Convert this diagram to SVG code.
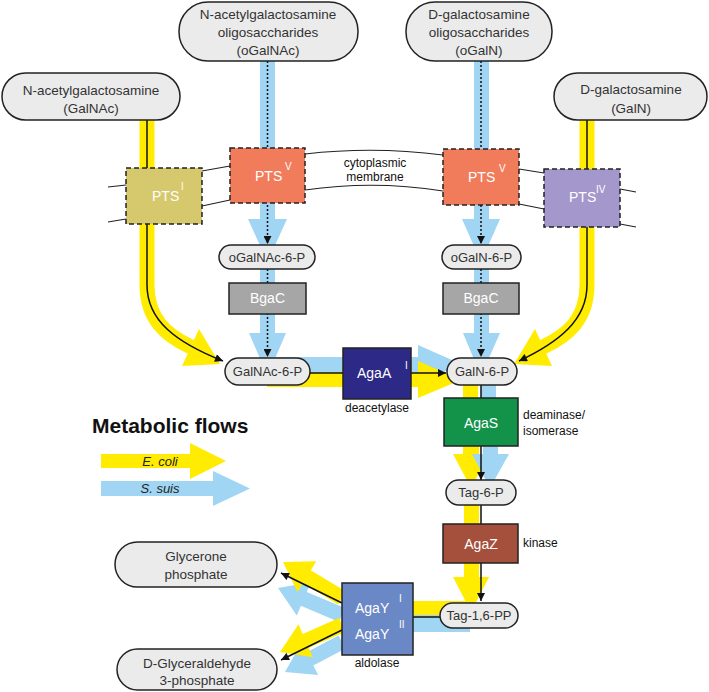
<svg xmlns="http://www.w3.org/2000/svg" width="709" height="692" viewBox="0 0 709 692">
<defs>
<marker id="ah" viewBox="0 0 10 10" refX="10" refY="5" markerWidth="9" markerHeight="8" markerUnits="userSpaceOnUse" orient="auto"><path d="M0,0 L10,5 L0,10 z" fill="#111"/></marker>
<style>
.pill{fill:#ebebeb;stroke:#222;stroke-width:1.5}
.t{font-family:"Liberation Sans",Arial,sans-serif;font-size:13.5px;fill:#333;text-anchor:middle}
.ts{font-family:"Liberation Sans",Arial,sans-serif;font-size:13px;fill:#333;text-anchor:middle}
.lb{font-family:"Liberation Sans",Arial,sans-serif;font-size:12px;fill:#111}
.bx{stroke:#222;stroke-width:1.5}
.pts{stroke:#222;stroke-width:1.5;stroke-dasharray:5,3}
.w{font-family:"Liberation Sans",Arial,sans-serif;font-size:14px;fill:#fff}
.sup{font-family:"Liberation Sans",Arial,sans-serif;font-size:10px;fill:#fff}
.y{fill:#ffec00}
.b{fill:#a0d6f3}
.ys{fill:none;stroke:#ffec00;stroke-width:15}
.ln{fill:none;stroke:#111;stroke-width:1.5}
.dot{fill:none;stroke:#111;stroke-width:1.5;stroke-dasharray:2,2}
.mem{fill:none;stroke:#222;stroke-width:1.2}
</style>
</defs>

<g id="flows">
<!-- left GalNAc yellow -->
<path class="ys" d="M147,120 V285 C147,318 165,335 191,347"/>
<polygon class="y" points="199,329 220,364 182,366"/>
<!-- right GalN yellow -->
<path class="ys" d="M587,120 V285 C587,318 569,335 543,347"/>
<polygon class="y" points="535,329 514,364 552,366"/>
<!-- oGalNAc blue -->
<rect class="b" x="260" y="61" width="15" height="158"/>
<polygon class="b" points="248,219 287,219 267.5,262"/>
<rect class="b" x="260" y="269" width="15" height="64"/>
<polygon class="b" points="249,333 286,333 267.5,376"/>
<!-- oGalN blue -->
<rect class="b" x="474" y="61" width="15" height="158"/>
<polygon class="b" points="462,219 500,219 481,262"/>
<rect class="b" x="474" y="269" width="15" height="64"/>
<polygon class="b" points="463,333 500,333 481,376"/>
<!-- GalNAc-6-P to GalN-6-P -->
<rect class="b" x="267" y="357" width="151" height="15"/>
<polygon class="b" points="418,345 461,364 418,384"/>
<rect class="y" x="267" y="372" width="151" height="15"/>
<polygon class="y" points="418,361 461,380 418,398"/>
<!-- GalN-6-P to AgaS -->
<rect class="y" x="463" y="371" width="15" height="30"/>
<rect class="b" x="481" y="371" width="15" height="30"/>
<!-- AgaS to Tag-6-P -->
<rect class="y" x="463" y="445" width="16" height="10"/>
<polygon class="y" points="453,454 489,454 471,488"/>
<rect class="b" x="483" y="445" width="15" height="10"/>
<polygon class="b" points="472,454 509,454 490,488"/>
<!-- Tag-6-P to AgaZ -->
<rect class="y" x="464" y="492" width="15" height="34"/>
<!-- AgaZ to Tag-1,6-PP -->
<rect class="y" x="464" y="562" width="15" height="16"/>
<polygon class="y" points="453,577 489,577 471,612"/>
<!-- Tag-1,6-PP to AgaY -->
<rect class="y" x="410" y="601" width="60" height="14"/>
<rect class="b" x="410" y="615" width="60" height="17"/>
<!-- AgaY outputs -->
<polygon class="b" points="344.9,608.1 306.7,592.0 310.8,582.3 278,588 296.8,615.5 300.9,605.8 339.1,621.9"/>
<polygon class="b" points="345.5,648.6 313.3,665.6 318.2,674.9 285,672 301.4,643.1 306.3,652.4 338.5,635.4"/>
<polygon class="y" points="345.9,591.6 310.8,570.2 316.3,561.2 283,562 297.5,592.0 303.0,583.0 338.1,604.4"/>
<polygon class="y" points="345,631.9 308.7,647.7 312.9,657.3 280,652 298.5,624.3 302.7,633.9 339,618.1"/>

<!-- black connectors -->
<path class="ln" d="M147,120 V285 C147,320 175,342 223,361" marker-end="url(#ah)"/>
<path class="ln" d="M587,120 V285 C587,320 559,342 519,361" marker-end="url(#ah)"/>
<path class="dot" d="M267.5,61 V244" marker-end="url(#ah)"/>
<path class="dot" d="M267.5,269 V357" marker-end="url(#ah)"/>
<path class="dot" d="M481,61 V244" marker-end="url(#ah)"/>
<path class="dot" d="M481,269 V357" marker-end="url(#ah)"/>
<path class="ln" d="M310,373 H343"/>
<path class="ln" d="M411,373 H446" marker-end="url(#ah)"/>
<path class="ln" d="M481,385 V398"/>
<path class="ln" d="M481,446 V480" marker-end="url(#ah)"/>
<path class="ln" d="M481,505 V524"/>
<path class="ln" d="M481,563 V601" marker-end="url(#ah)"/>
<path class="ln" d="M413,617 H441"/>
<path class="ln" d="M342,603 L281,573" marker-end="url(#ah)"/>
<path class="ln" d="M342,630 L281,660" marker-end="url(#ah)"/>
</g>

<g id="membrane">
<path class="mem" d="M108,187 L126,185 M202,171 L230,166 M305,154 Q374,146 443,155 M519,169 L544,173 M620,189 L636,192"/>
<path class="mem" d="M108,222 L126,219 M202,206 L230,200 M305,190 Q374,180 443,191 M519,204 L544,209 M620,224 L636,227"/>
<text class="lb" x="375" y="167" text-anchor="middle">cytoplasmic</text>
<text class="lb" x="375" y="181" text-anchor="middle">membrane</text>
</g>

<g id="GalNAc"><rect class="pill" x="2" y="73" width="178" height="47" rx="23.5"/>
<text class="t" x="91" y="95">N-acetylgalactosamine</text><text class="t" x="91" y="113">(GalNAc)</text></g>
<g id="oGalNAc"><rect class="pill" x="179" y="2" width="179" height="59" rx="29"/>
<text class="t" x="268" y="19">N-acetylgalactosamine</text><text class="t" x="268" y="37">oligosaccharides</text><text class="t" x="268" y="55">(oGalNAc)</text></g>
<g id="oGalN"><rect class="pill" x="406" y="2" width="146" height="59" rx="29"/>
<text class="t" x="479" y="19">D-galactosamine</text><text class="t" x="479" y="37">oligosaccharides</text><text class="t" x="479" y="55">(oGalN)</text></g>
<g id="GalN"><rect class="pill" x="554" y="73" width="153" height="47" rx="23.5"/>
<text class="t" x="631" y="94">D-galactosamine</text><text class="t" x="631" y="113">(GalN)</text></g>

<g id="PTS1"><rect class="pts" x="126" y="168" width="76" height="56" fill="#d6c86c"/>
<text class="w" x="152" y="201">PTS</text><text class="sup" x="181" y="190">I</text></g>
<g id="PTS5a"><rect class="pts" x="230" y="148" width="75" height="55" fill="#f07c5c"/>
<text class="w" x="255" y="181">PTS</text><text class="sup" x="285" y="170">V</text></g>
<g id="PTS5b"><rect class="pts" x="443" y="149" width="76" height="56" fill="#f07c5c"/>
<text class="w" x="468" y="182">PTS</text><text class="sup" x="499" y="172">V</text></g>
<g id="PTS4"><rect class="pts" x="544" y="169" width="76" height="58" fill="#a397cc"/>
<text class="w" x="569" y="202">PTS</text><text class="sup" x="596" y="193">IV</text></g>

<g id="oGalNAc6P"><rect class="pill" x="219" y="245" width="96" height="24" rx="12"/><text class="ts" x="267" y="262">oGalNAc-6-P</text></g>
<g id="oGalN6P"><rect class="pill" x="442" y="245" width="79" height="24" rx="12"/><text class="ts" x="481.5" y="262">oGalN-6-P</text></g>
<g id="BgaC1"><rect class="bx" x="229" y="283" width="77" height="31" fill="#a6a6a6"/><text class="w" x="267.5" y="303" text-anchor="middle" fill="#f2f2f2">BgaC</text></g>
<g id="BgaC2"><rect class="bx" x="443" y="283" width="76" height="31" fill="#a6a6a6"/><text class="w" x="481" y="303" text-anchor="middle">BgaC</text></g>
<g id="GalNAc6P"><rect class="pill" x="225" y="358" width="85" height="27" rx="13.5"/><text class="ts" x="267.5" y="376">GalNAc-6-P</text></g>
<g id="GalN6P"><rect class="pill" x="447" y="358" width="70" height="27" rx="13.5"/><text class="ts" x="482" y="376">GalN-6-P</text></g>
<g id="AgaA"><rect class="bx" x="343" y="348" width="68" height="51" fill="#2c2987"/>
<text class="w" x="357" y="378">AgaA</text><text class="sup" x="405" y="369">I</text>
<text class="lb" x="377" y="412" text-anchor="middle">deacetylase</text></g>
<g id="AgaS"><rect class="bx" x="444" y="398" width="74" height="48" fill="#13934a"/>
<text class="w" x="481" y="428" text-anchor="middle">AgaS</text>
<text class="lb" x="523" y="419">deaminase/</text><text class="lb" x="523" y="435">isomerase</text></g>
<g id="Tag6P"><rect class="pill" x="446" y="480" width="70" height="25" rx="12.5"/><text class="ts" x="481" y="497">Tag-6-P</text></g>
<g id="AgaZ"><rect class="bx" x="443" y="524" width="75" height="39" fill="#a4503c"/>
<text class="w" x="481" y="549" text-anchor="middle">AgaZ</text><text class="lb" x="523" y="547">kinase</text></g>
<g id="Tag16PP"><rect class="pill" x="440" y="603" width="78" height="25" rx="12.5"/><text class="ts" x="479" y="620">Tag-1,6-PP</text></g>
<g id="AgaY"><rect class="bx" x="342" y="583" width="71" height="72" fill="#6b88c6"/>
<text class="w" x="355" y="613">AgaY</text><text class="sup" x="399" y="602">I</text>
<text class="w" x="355" y="639">AgaY</text><text class="sup" x="399" y="628">II</text>
<text class="lb" x="377" y="667" text-anchor="middle">aldolase</text></g>
<g id="Glycerone"><rect class="pill" x="115" y="542" width="162" height="45" rx="22.5"/>
<text class="t" x="196" y="561">Glycerone</text><text class="t" x="196" y="579">phosphate</text></g>
<g id="G3P"><rect class="pill" x="117" y="649" width="160" height="41" rx="20.5"/>
<text class="t" x="197" y="668">D-Glyceraldehyde</text><text class="t" x="197" y="685">3-phosphate</text></g>

<g id="legend">
<text x="92" y="433" font-family="Liberation Sans,Arial,sans-serif" font-size="21" font-weight="bold" fill="#111">Metabolic flows</text>
<polygon class="y" points="101,454 190,454 190,443 226,461 190,479 190,468 101,468"/>
<text x="160" y="466" font-family="Liberation Sans,Arial,sans-serif" font-size="13" font-style="italic" fill="#222" text-anchor="middle">E. coli</text>
<polygon class="b" points="101,481 213,481 213,471 250,488.5 213,506 213,496 101,496"/>
<text x="160" y="493" font-family="Liberation Sans,Arial,sans-serif" font-size="13" font-style="italic" fill="#222" text-anchor="middle">S. suis</text>
</g>
</svg>
